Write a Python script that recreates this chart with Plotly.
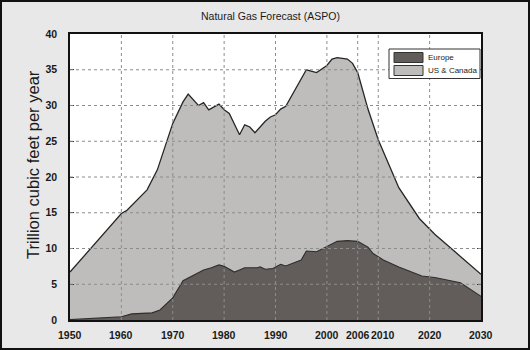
import plotly.graph_objects as go

# ---- data ----
us_years = [1950, 1960, 1961, 1962, 1965, 1967, 1970, 1972, 1973, 1975, 1976, 1977,
            1979, 1980, 1981, 1983, 1984, 1985, 1986, 1988, 1989, 1990, 1991, 1992,
            1994, 1996, 1998, 2000, 2001, 2002, 2004, 2005, 2006, 2008, 2010, 2012,
            2014, 2018, 2021, 2025, 2030]
us_values = [6.7, 14.9, 15.3, 16.0, 18.2, 21.0, 27.5, 30.5, 31.6, 30.0, 30.4, 29.4,
             30.2, 29.4, 28.9, 25.9, 27.3, 27.0, 26.2, 27.8, 28.4, 28.7, 29.5, 29.9,
             32.4, 35.0, 34.6, 35.6, 36.5, 36.7, 36.5, 35.9, 34.6, 29.5, 25.2, 21.8,
             18.5, 14.2, 12.0, 9.5, 6.4]

eu_years = [1950, 1960, 1962, 1966, 1967.5, 1970, 1972, 1974, 1976, 1977.5, 1979,
            1980, 1982, 1983, 1984, 1986.5, 1987, 1988, 1989.5, 1991, 1992, 1995,
            1996, 1998, 2000, 2002, 2004, 2006, 2008, 2009, 2011, 2014, 2018.5,
            2021, 2026, 2030]
eu_values = [0.05, 0.45, 0.85, 1.0, 1.4, 3.1, 5.5, 6.3, 7.0, 7.3, 7.7,
             7.5, 6.7, 7.0, 7.3, 7.3, 7.45, 7.1, 7.2, 7.8, 7.55, 8.4,
             9.65, 9.55, 10.25, 11.0, 11.1, 11.0, 10.2, 9.3, 8.4, 7.4, 6.15,
             5.95, 5.2, 3.3]

x_ticks = [1950, 1960, 1970, 1980, 1990, 2000, 2006, 2010, 2020, 2030]
x_tick_labels = [str(v) for v in x_ticks]
y_ticks = [0, 5, 10, 15, 20, 25, 30, 35, 40]

series_names = ["Europe", "US & Canada"]
series_fills = ["#625d5b", "#bfbdbb"]

title_text = "Natural Gas Forecast (ASPO)"
y_title = "Trillion cubic feet per year"

# ---- layout geometry ----
W, H = 530, 350
L, R, T, B = 70, 49, 34, 30
pw, ph = W - L - R, H - T - B


def px(x):
    return (x - L) / pw


def py(y):
    return 1 - (y - T) / ph


FONT = "Liberation Sans, Arial, sans-serif"

fig = go.Figure()
fig.add_trace(go.Scatter(
    x=us_years, y=us_values, name=series_names[1], mode="lines",
    line=dict(color="#262626", width=1.3), fill="tozeroy", fillcolor=series_fills[1],
    showlegend=False,
))
fig.add_trace(go.Scatter(
    x=eu_years, y=eu_values, name=series_names[0], mode="lines",
    line=dict(color="#2e2e2e", width=1.1), fill="tozeroy", fillcolor=series_fills[0],
    showlegend=False,
))

shapes = []
for yv in y_ticks[1:-1]:
    shapes.append(dict(type="line", xref="x", yref="y", x0=x_ticks[0], x1=x_ticks[-1],
                       y0=yv, y1=yv, line=dict(color="#8c8c8c", width=1, dash="dot"),
                       layer="above"))
for xv in x_ticks[1:-1]:
    shapes.append(dict(type="line", xref="x", yref="y", x0=xv, x1=xv,
                       y0=y_ticks[0], y1=y_ticks[-1],
                       line=dict(color="#8c8c8c", width=1, dash="dot"), layer="above"))

# legend box (drawn by hand to match the compact original)
shapes.append(dict(type="rect", xref="paper", yref="paper",
                   x0=px(389), x1=px(480), y0=py(78.5), y1=py(49),
                   fillcolor="#ffffff", line=dict(color="#333333", width=1), layer="above"))
swatch_rows = [(52.5, 62.5), (65.5, 75.5)]
annotations = []
for (y0, y1), name, col in zip(swatch_rows, series_names, series_fills):
    shapes.append(dict(type="rect", xref="paper", yref="paper",
                       x0=px(394), x1=px(423), y0=py(y1), y1=py(y0),
                       fillcolor=col, line=dict(color="#333333", width=1), layer="above"))
    annotations.append(dict(text=name, xref="paper", yref="paper",
                            x=px(425.5), y=py((y0 + y1) / 2), xanchor="left", yanchor="middle",
                            showarrow=False, font=dict(family=FONT, size=8, color="#1a1a1a")))

# x tick labels, placed on the x scale (2010 nudged right as in the original)
for xv, lab in zip(x_ticks, x_tick_labels):
    annotations.append(dict(text=lab, xref="x", yref="paper", x=xv, y=py(335),
                            xanchor="center", yanchor="middle", showarrow=False,
                            xshift=5 if xv == 2010 else 0,
                            font=dict(family=FONT, size=10.5, weight="bold", color="#1a1a1a")))

# outer frame of the whole picture
shapes.append(dict(type="rect", xref="paper", yref="paper",
                   x0=(-L + 1) / pw, x1=1 + (R - 1) / pw,
                   y0=-(B - 1) / ph, y1=1 + (T - 1) / ph,
                   line=dict(color="#111111", width=2), layer="above"))

annotations += [
    dict(text=title_text, xref="paper", yref="paper",
         x=px(270), y=py(16), xanchor="center", yanchor="middle",
         showarrow=False, font=dict(family=FONT, size=10.5, color="#1a1a1a")),
    dict(text=y_title, xref="paper", yref="paper", textangle=-90,
         x=px(33), y=py(165), xanchor="center", yanchor="middle",
         showarrow=False, font=dict(family=FONT, size=16.5, color="#1a1a1a")),
]

fig.update_layout(
    width=W, height=H,
    margin=dict(l=L, r=R, t=T, b=B),
    paper_bgcolor="#e8e8e8", plot_bgcolor="#ffffff",
    font=dict(family=FONT, color="#1a1a1a"),
    showlegend=False,
    xaxis=dict(
        range=[x_ticks[0], x_ticks[-1]], tickvals=x_ticks, showticklabels=False,
        showgrid=False, zeroline=False, showline=True, linecolor="#111111", linewidth=1.5,
        mirror=True, ticks="", layer="above traces",
    ),
    yaxis=dict(
        range=[y_ticks[0], y_ticks[-1]], tickvals=y_ticks,
        showgrid=False, zeroline=False, showline=True, linecolor="#111111", linewidth=1.5,
        mirror="ticks", ticks="inside", ticklen=4, tickcolor="#333333",
        tickfont=dict(family=FONT, size=10.5, weight="bold", color="#1a1a1a"),
        ticklabelstandoff=9, layer="above traces",
    ),
    shapes=shapes,
    annotations=annotations,
)

fig.write_html("out.html")
